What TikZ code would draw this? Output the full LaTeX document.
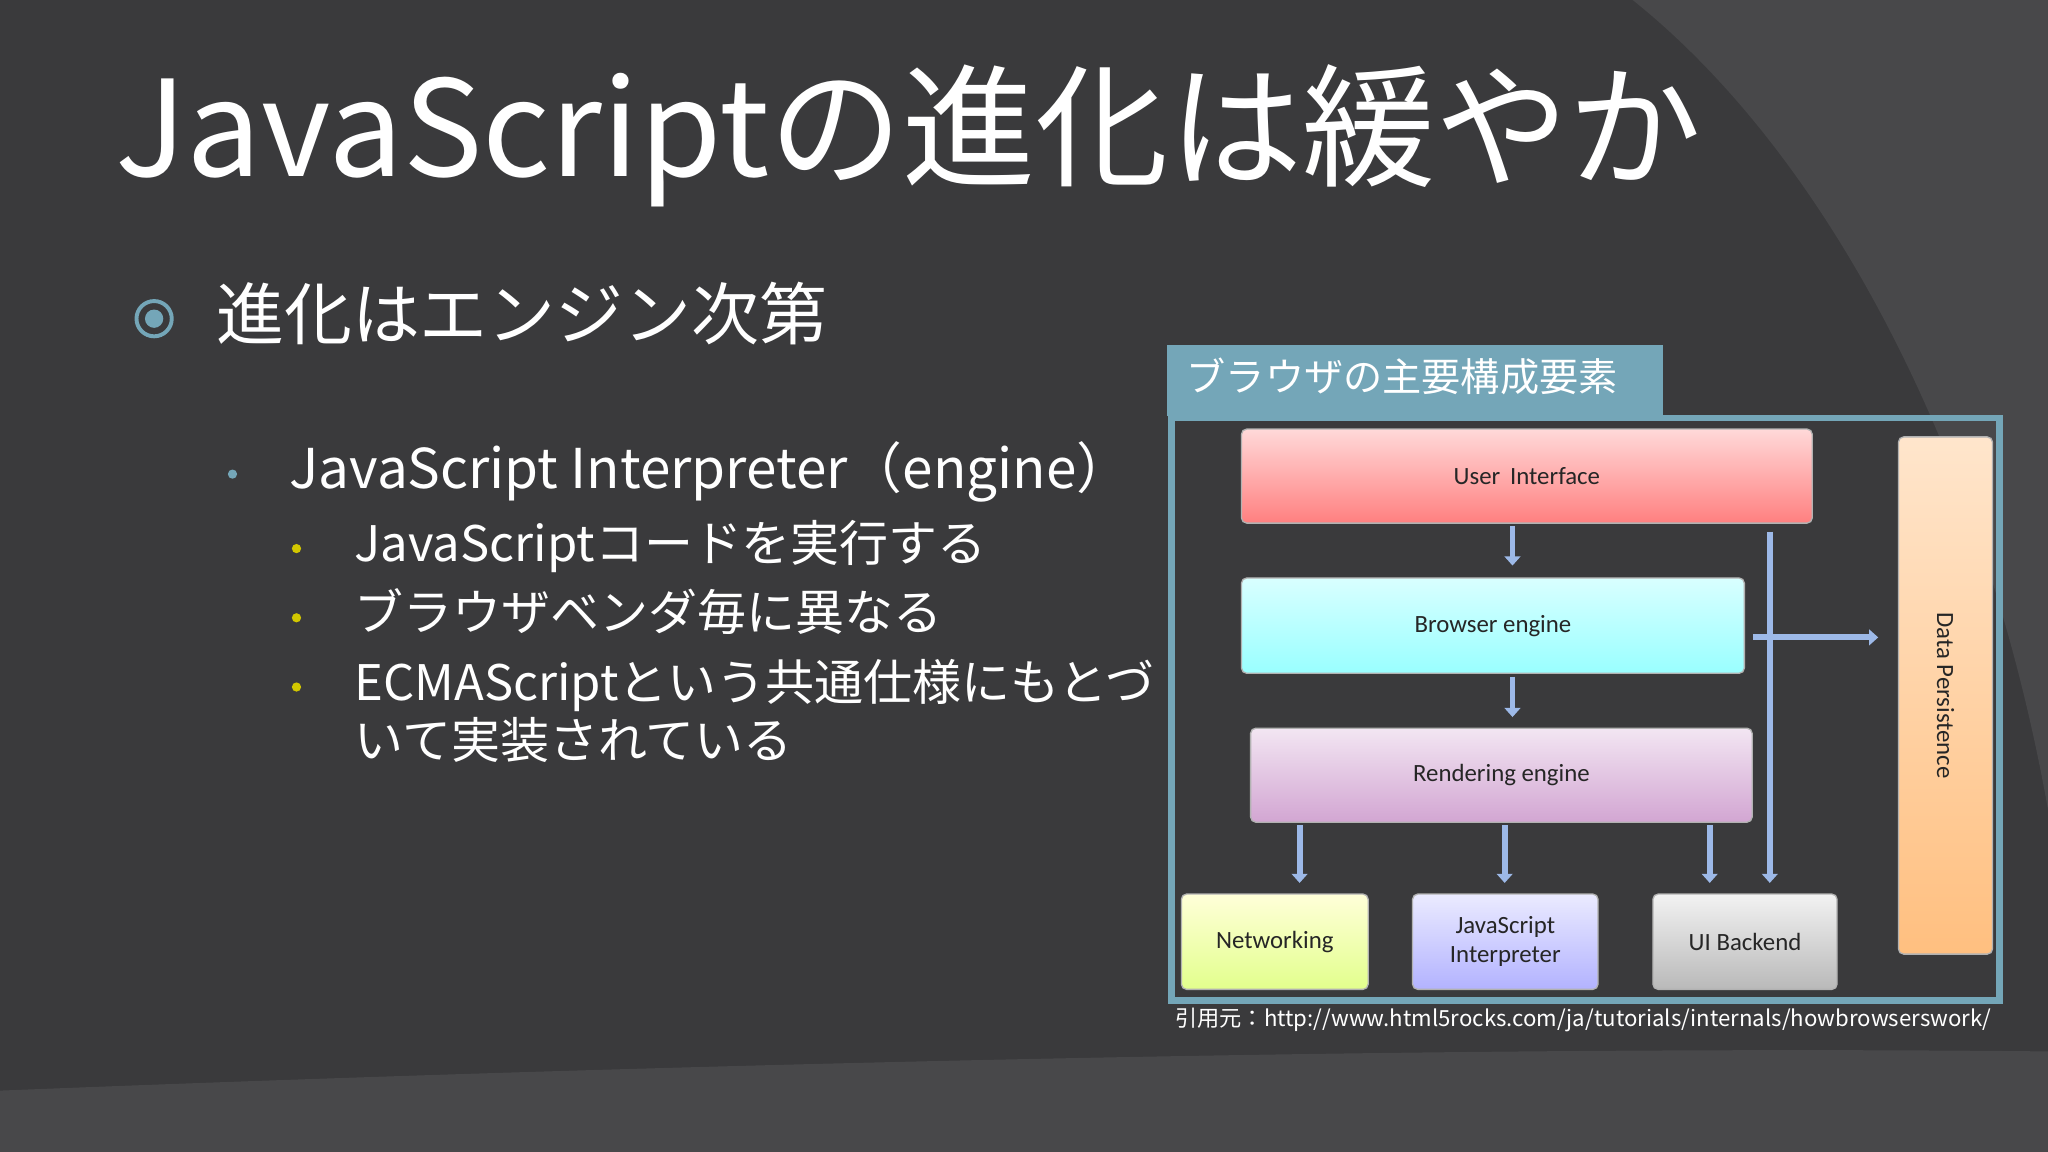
\documentclass[tikz,border=0pt]{standalone}
\usepackage{fontspec}
\setmainfont{Noto Sans CJK JP}
\newfontfamily\calfont{Carlito}
\usetikzlibrary{arrows.meta}
\definecolor{bg}{HTML}{3A3A3C}
\definecolor{bgl}{HTML}{48484A}
\definecolor{teal}{HTML}{74A6B8}
\definecolor{arr}{HTML}{9DB9E8}
\tikzset{
 box/.style={draw=gray!60,line width=1pt,rounded corners=4pt,font=\calfont\fontsize{19}{22}\selectfont,text=black!85,align=center,inner sep=0pt},
 ar/.style={draw=arr,line width=4.5pt,-{Triangle[length=7pt,width=12pt]}},
 lv3/.style={anchor=base west,text=white,font=\fontsize{37.5}{44}\selectfont},
 dot3/.style={fill=yellow!60!olive,circle,inner sep=2.5pt}
}
\begin{document}
\begin{tikzpicture}[x=1pt,y=-1pt]
\useasboundingbox (0,0) rectangle (1568,882);
\fill[bg] (0,0) rectangle (1568,882);
\fill[bgl] (1250,0) .. controls (1400,120) and (1520,350) .. (1568,620) -- (1568,0) -- cycle;
\fill[bgl] (0,882) -- (0,835) .. controls (500,815) and (1100,800) .. (1568,805) -- (1568,882) -- cycle;
\node[anchor=base west,text=white,font=\fontsize{102}{110}\selectfont] (title) at (85,135) {JavaScriptの進化は緩やか};
\node[draw=teal,line width=3pt,circle,minimum size=27pt,inner sep=0pt] (b1) at (118,244) {};
\fill[teal] (b1.center) circle (7pt);
\node[anchor=west,text=white,font=\fontsize{52}{60}\selectfont] (t1) at (162,240) {進化はエンジン次第};
\node[fill=teal,circle,inner sep=2.5pt] (b2) at (178,363) {};
\node[anchor=west,text=white,font=\fontsize{42}{48}\selectfont] (t2) at (218,361) {JavaScript Interpreter（engine）};
\node[dot3] (d1) at (227,420) {};
\node[dot3] (d2) at (227,473) {};
\node[dot3] (d3) at (227,526) {};
\node[lv3] (s1) at (268,430) {JavaScriptコードを実行する};
\node[lv3] (s2) at (268,483) {ブラウザベンダ毎に異なる};
\node[lv3] (s3) at (268,536) {ECMAScriptという共通仕様にもとづ};
\node[lv3] (s4) at (268,581) {いて実装されている};
% diagram
\node[fill=teal,minimum width=380pt,minimum height=54pt,anchor=north west,inner sep=0pt] (tab) at (893,264) {};
\node[anchor=west,text=white,font=\fontsize{30}{34}\selectfont] (tabt) at (905,288) {ブラウザの主要構成要素};
\draw[teal,line width=5pt] (897,320) rectangle (1531,766);
\node[box,top color=red!15,bottom color=red!50,minimum width=437pt,minimum height=72pt,anchor=north west] (ui) at (950,328) {User\, Interface};
\node[box,top color=cyan!15,bottom color=cyan!40,minimum width=385pt,minimum height=73pt,anchor=north west] (be) at (950,442) {Browser engine};
\node[box,top color=violet!10,bottom color=violet!35,minimum width=384pt,minimum height=72pt,anchor=north west] (re) at (957,557) {Rendering engine};
\node[box,top color=yellow!15,bottom color=lime!45,minimum width=143pt,minimum height=73pt,anchor=north west] (nw) at (904,684) {Networking};
\node[box,top color=blue!8,bottom color=blue!30,minimum width=142pt,minimum height=73pt,anchor=north west] (js) at (1081,684) {JavaScript\\Interpreter};
\node[box,top color=white!95!black,bottom color=gray!55,minimum width=141pt,minimum height=73pt,anchor=north west] (ub) at (1265,684) {UI Backend};
\node[box,top color=orange!20,bottom color=orange!50,minimum width=72pt,minimum height=396pt,anchor=north west] (dp) at (1453,334) {};
\node[rotate=-90,font=\calfont\fontsize{19}{22}\selectfont,text=black!85] (dpt) at (dp.center) {Data Persistence};
\draw[ar] ([yshift=-2pt]ui.south -| 1158,0) -- ([yshift=9pt]be.north -| 1158,0);
\draw[ar] ([yshift=-2pt]be.south -| 1158,0) -- ([yshift=8pt]re.north -| 1158,0);
\draw[ar] ([yshift=-2pt]re.south -| 995,0) -- ([yshift=8pt]nw.north -| 995,0);
\draw[ar] ([yshift=-2pt]re.south -| 1152,0) -- ([yshift=8pt]js.north -| 1152,0);
\draw[ar] ([yshift=-2pt]re.south -| 1309,0) -- ([yshift=8pt]ub.north -| 1309,0);
\coordinate (vtop) at (1355,407);
\draw[ar] (vtop) -- ([yshift=8pt]vtop |- ub.north);
\draw[ar] ([xshift=6pt]be.east |- 0,488) -- (1438,488);
\node[anchor=east,text=white,font=\fontsize{17}{20}\selectfont] (cite) at (1528,781) {引用元：http://www.html5rocks.com/ja/tutorials/internals/howbrowserswork/};
\end{tikzpicture}
\end{document}
